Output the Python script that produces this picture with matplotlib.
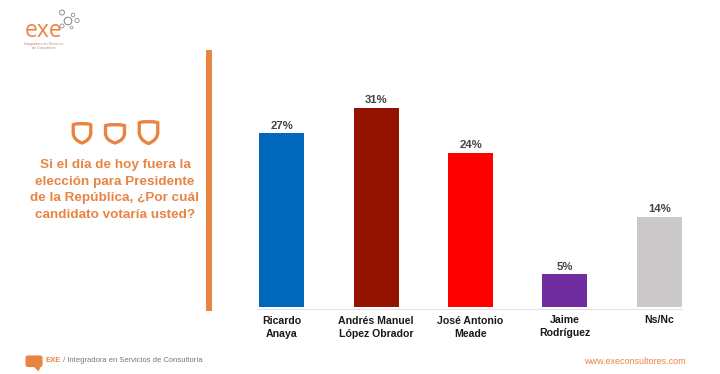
import matplotlib
matplotlib.use("Agg")
import matplotlib.pyplot as plt
from matplotlib.patches import Circle, PathPatch, Rectangle, FancyBboxPatch, Polygon
from matplotlib.path import Path

W, H = 720, 374
ORANGE = "#E98442"

candidates = ["Ricardo\nAnaya", "Andrés Manuel\nLópez Obrador", "José Antonio\nMeade", "Jaime\nRodríguez", "Ns/Nc"]
votes = [27, 31, 24, 5, 14]
bar_colors = ["#0068BD", "#931200", "#FE0000", "#6F2DA0", "#CBC9CA"]
question = "Si el día de hoy fuera la\nelección para Presidente\nde la República, ¿Por cuál\ncandidato votaría usted?"

plt.rcParams["font.family"] = ["Liberation Sans", "DejaVu Sans"]

fig = plt.figure(figsize=(W / 100, H / 100), dpi=100, facecolor="white")

# overlay in pixel coordinates for the slide decoration
bg = fig.add_axes([0, 0, 1, 1])
bg.set_xlim(0, W)
bg.set_ylim(H, 0)
bg.axis("off")

# chart area
ax = fig.add_axes([234.5 / W, (H - 306.5) / H, 471 / W, 220 / H])
x = range(len(votes))
bars = ax.bar(x, votes, width=0.477, color=bar_colors)
ax.set_xlim(-0.5, 4.5 + (471 / 94.4 - 5))
ax.set_ylim(0, 220 / 6.41)
for i, v in zip(x, votes):
    ax.text(i, v + 0.4, f"{v}%", ha="center", va="bottom", fontsize=8.2, fontweight="bold", color="#444444")
ax.set_yticks([])
ax.set_xticks([])
for s in ax.spines.values():
    s.set_visible(False)
ax.patch.set_alpha(0)
# category labels, Jaime sits a little higher in the source
label_y = [-0.096, -0.096, -0.096, -0.09, -0.063]
for i, name, ly in zip(x, candidates, label_y):
    ax.text(i, ly, name, transform=ax.get_xaxis_transform(), ha="center", va="center",
            fontsize=7.6, fontweight="bold", color="#1A1A1A", linespacing=1.33)

# thin baseline under the bars
bg.plot([257, 682], [308.5, 308.5], color="#E2E2E2", lw=0.8)

# vertical rule
bg.add_patch(Rectangle((206.3, 50), 5.2, 261, color=ORANGE, lw=0))

# question text
bg.text(115, 190, question, ha="center", va="center", fontsize=9.7, fontweight="bold",
        color=ORANGE, linespacing=1.52)

# shields
def shield(cx, top, w, h):
    verts = [(cx - w / 2, top + 2), (cx, top), (cx + w / 2, top + 2),
             (cx + w / 2, top + h * 0.5), (cx + w / 2, top + h * 0.85), (cx, top + h),
             (cx - w / 2, top + h * 0.85), (cx - w / 2, top + h * 0.5), (cx - w / 2, top + 2)]
    codes = [Path.MOVETO, Path.CURVE3, Path.CURVE3, Path.LINETO, Path.CURVE3, Path.CURVE3,
             Path.CURVE3, Path.CURVE3, Path.CLOSEPOLY]
    bg.add_patch(PathPatch(Path(verts, codes), fc="none", ec=ORANGE, lw=2.4, joinstyle="round"))

shield(82, 122.5, 17.5, 20.5)
shield(115, 123.5, 19, 19.5)
shield(148.5, 120.5, 18.5, 23)

# logo
bg.text(24.5, 30.5, "exe", fontsize=16.5, color=ORANGE, ha="left", va="center",
        fontfamily="Open Sans", fontweight="medium")
bg.text(43.5, 46, "Integradora en Servicios\nde Consultoría", fontsize=2.6, color="#B08A70",
        ha="center", va="center")
for cx, cy, r, lw in [(68, 21, 3.8, 0.8), (62, 12.5, 2.5, 0.7), (73, 15, 1.8, 0.6),
                      (77, 20.5, 2.1, 0.6), (71.5, 27.5, 1.4, 0.5), (62, 26, 2.0, 0.6)]:
    bg.add_patch(Circle((cx, cy), r, fc="none", ec="#8F8F8F", lw=lw))

# footer
bg.add_patch(FancyBboxPatch((26, 356), 16, 10.5, boxstyle="round,pad=0,rounding_size=2", fc=ORANGE, ec=ORANGE, lw=0.8))
bg.add_patch(Polygon([(33, 366), (41, 366), (38.5, 371.5)], fc=ORANGE, ec="none"))
bg.text(46, 360.7, "EXE", fontsize=5.5, fontweight="bold", color=ORANGE, ha="left", va="center")
bg.text(63, 360.7, "/ Integradora en Servicios de Consultoría", fontsize=5.5, color="#777777", ha="left", va="center")
bg.text(686, 361, "www.execonsultores.com", fontsize=6.5, color=ORANGE, ha="right", va="center")

fig.savefig("out.png", dpi=100)
